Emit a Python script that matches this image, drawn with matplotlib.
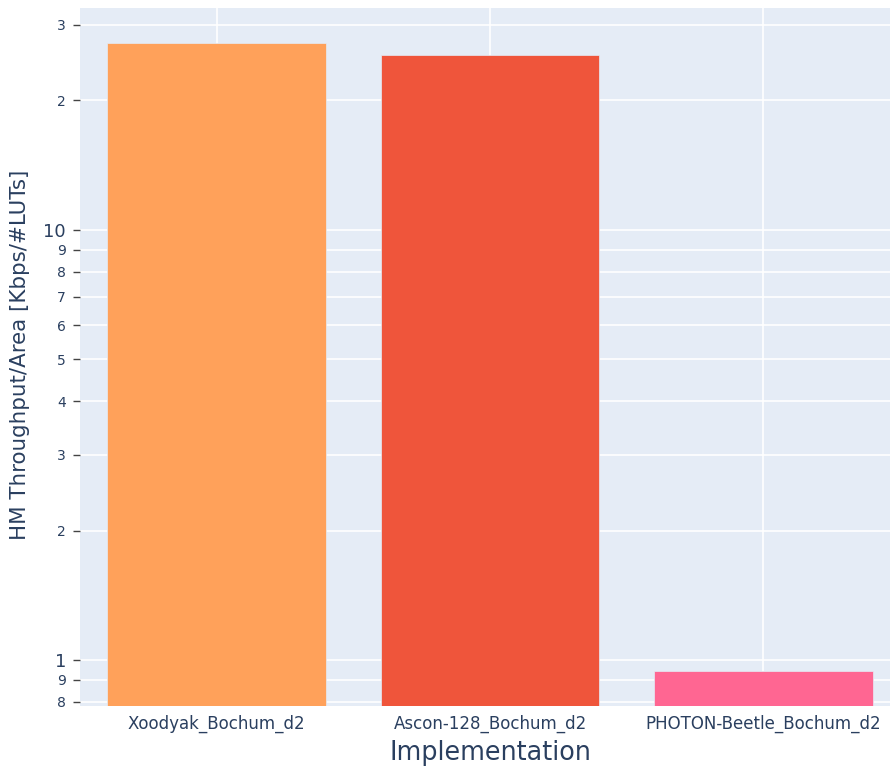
import matplotlib

matplotlib.use("Agg")
import matplotlib.pyplot as plt
from matplotlib.ticker import FixedLocator, NullLocator

# --- data ---
implementations = ["Xoodyak_Bochum_d2", "Ascon-128_Bochum_d2", "PHOTON-Beetle_Bochum_d2"]
throughput_area = [27.2, 25.5, 0.943]
bar_colors = ["#FFA15A", "#EF553B", "#FF6692"]

y_ticks = [0.8, 0.9, 1, 2, 3, 4, 5, 6, 7, 8, 9, 10, 20, 30]
y_tick_labels = ["8", "9", "1", "2", "3", "4", "5", "6", "7", "8", "9", "10", "2", "3"]

# plotly-ish palette
PLOT_BG = "#E5ECF6"
INK = "#2a3f5f"
TICK = "#444444"

fig = plt.figure(figsize=(8.9, 7.72), dpi=100)
ax = fig.add_axes([80 / 890, 66 / 772, 820 / 890, 698 / 772])
ax.set_facecolor(PLOT_BG)

x = list(range(len(implementations)))
ax.bar(x, throughput_area, width=0.8, color=bar_colors,
       edgecolor=PLOT_BG, linewidth=0.5, zorder=3)

ax.set_yscale("log")
ax.set_ylim(0.782, 32.8)
ax.set_xlim(-0.5, 2.5)

ax.yaxis.set_major_locator(FixedLocator(y_ticks))
ax.yaxis.set_minor_locator(NullLocator())
ax.set_yticklabels(y_tick_labels)
for lab, t in zip(ax.get_yticklabels(), y_ticks):
    lab.set_fontsize(13 if t in (1, 10) else 10)
    lab.set_color(INK)

ax.set_xticks(x)
ax.set_xticklabels(implementations, fontsize=12, color=INK)

ax.tick_params(axis="y", length=5, width=1, color=TICK, pad=5)
ax.tick_params(axis="x", length=0, pad=6)

ax.grid(True, which="major", color="white", linewidth=1.2, zorder=0)
ax.set_axisbelow(True)
for s in ax.spines.values():
    s.set_visible(False)

fig.text(20 / 890, 1 - 355 / 772, "HM Throughput/Area [Kbps/#LUTs]",
         rotation=90, ha="center", va="center", fontsize=15.4, color=INK)
fig.text(490 / 890, 1 - 753 / 772, "Implementation",
         ha="center", va="center", fontsize=18.4, color=INK)

fig.savefig("out.png", dpi=100)
